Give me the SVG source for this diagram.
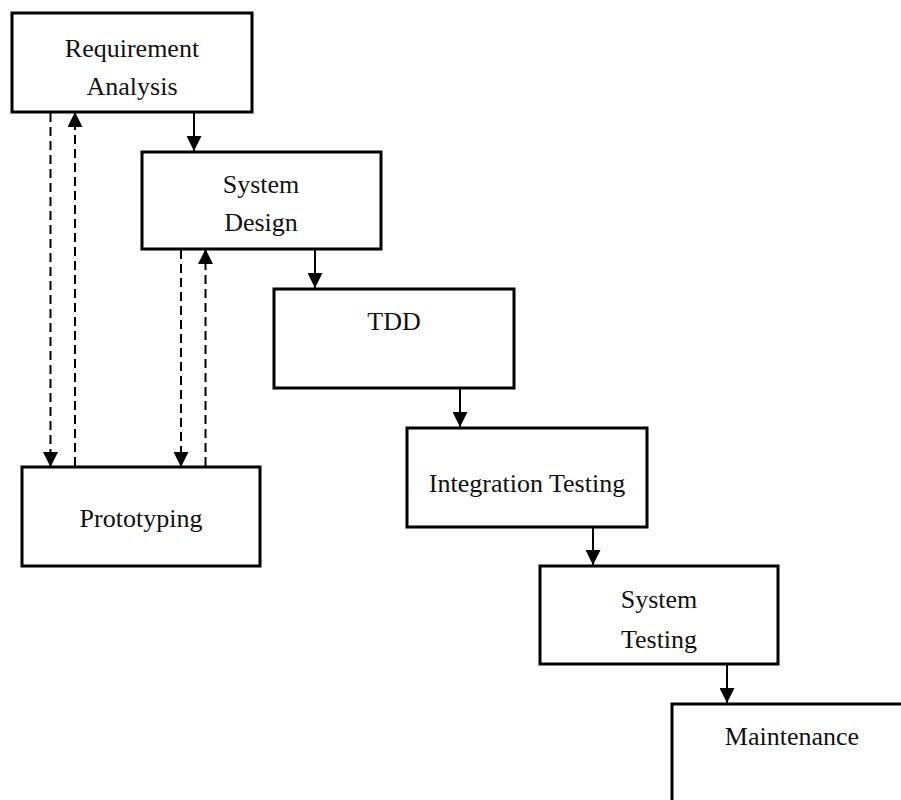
<svg xmlns="http://www.w3.org/2000/svg" width="901" height="800" viewBox="0 0 901 800">
<defs>
<marker id="ah" markerUnits="userSpaceOnUse" markerWidth="15" markerHeight="15" viewBox="0 0 15 15" refX="15" refY="7.5" orient="auto">
<path d="M0,0 L15,7.5 L0,15 Z" fill="#000"/>
</marker>
<style>
.box{fill:#fff;stroke:#000;stroke-width:3}
.t{font-family:"Liberation Serif","Times New Roman",serif;font-size:26px;fill:#111;text-anchor:middle}
.c{stroke:#000;stroke-width:2;fill:none;marker-end:url(#ah)}
.d{stroke-dasharray:9 5}
</style>
</defs>
<rect width="901" height="800" fill="#fff"/>
<g id="connectors">
<line class="c" x1="194" y1="112" x2="194" y2="151"/>
<line class="c" x1="315" y1="249" x2="315" y2="288"/>
<line class="c" x1="460" y1="388" x2="460" y2="427"/>
<line class="c" x1="593" y1="527" x2="593" y2="565"/>
<line class="c" x1="727" y1="664" x2="727" y2="703"/>
<line class="c d" x1="50.5" y1="113" x2="50.5" y2="467"/>
<line class="c d" x1="75" y1="466" x2="75" y2="112"/>
<line class="c d" x1="181" y1="250" x2="181" y2="467"/>
<line class="c d" x1="205.5" y1="466" x2="205.5" y2="249"/>
</g>
<g id="requirement-analysis">
<rect class="box" x="12" y="13" width="240" height="99"/>
<text class="t" x="132" y="57">Requirement</text>
<text class="t" x="132" y="95">Analysis</text>
</g>
<g id="system-design">
<rect class="box" x="142" y="152" width="239" height="97"/>
<text class="t" x="261" y="193">System</text>
<text class="t" x="261" y="231">Design</text>
</g>
<g id="tdd">
<rect class="box" x="274" y="289" width="240" height="99"/>
<text class="t" x="394" y="330">TDD</text>
</g>
<g id="integration-testing">
<rect class="box" x="407" y="428" width="240" height="99"/>
<text class="t" x="527" y="492">Integration Testing</text>
</g>
<g id="system-testing">
<rect class="box" x="540" y="566" width="238" height="98"/>
<text class="t" x="659" y="608">System</text>
<text class="t" x="659" y="648">Testing</text>
</g>
<g id="maintenance">
<rect class="box" x="672" y="704" width="240" height="110"/>
<text class="t" x="792" y="745">Maintenance</text>
</g>
<g id="prototyping">
<rect class="box" x="22" y="467" width="238" height="99"/>
<text class="t" x="141" y="527">Prototyping</text>
</g>
</svg>
